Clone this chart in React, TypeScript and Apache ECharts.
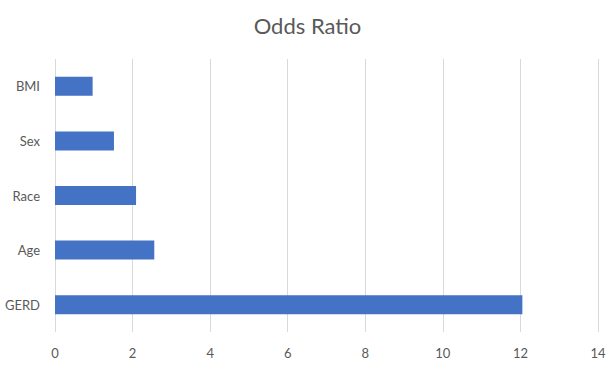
import React, { useEffect, useRef } from "react";
import * as echarts from "echarts";

const categories = ["GERD", "Age", "Race", "Sex", "BMI"];
const oddsRatios = [12.05, 2.56, 2.09, 1.52, 0.97];
const xTicks = { min: 0, max: 14, interval: 2 };
const titleText = "Odds Ratio";

export default function App() {
  const ref = useRef<HTMLDivElement>(null);
  useEffect(() => {
    if (!ref.current) return;
    const chart = echarts.init(ref.current, null, { renderer: "svg" });
    chart.setOption({
      animation: false,
      backgroundColor: "#ffffff",
      title: {
        text: titleText,
        left: "center",
        top: 9,
        textStyle: {
          fontFamily: "Lato",
          fontSize: 22,
          fontWeight: "normal",
          color: "#595959",
        },
      },
      grid: { left: 55, right: 17, top: 59, height: 273 },
      xAxis: {
        type: "value",
        min: xTicks.min,
        max: xTicks.max,
        interval: xTicks.interval,
        axisLine: { show: false },
        axisTick: { show: false },
        splitLine: { show: true, lineStyle: { color: "#d9d9d9", width: 1 } },
        axisLabel: {
          color: "#595959",
          fontFamily: "Lato",
          fontSize: 13,
          margin: 14,
        },
      },
      yAxis: {
        type: "category",
        data: categories,
        axisLine: { show: false },
        axisTick: { show: false },
        axisLabel: {
          color: "#595959",
          fontFamily: "Lato",
          fontSize: 13,
          margin: 15,
        },
      },
      series: [
        {
          type: "bar",
          data: oddsRatios,
          barWidth: 19,
          itemStyle: { color: "#4472C4" },
        },
      ],
    });
    return () => chart.dispose();
  }, []);
  return <div ref={ref} style={{ width: 615, height: 380, position: "absolute", left: 0, top: 0 }} />;
}
